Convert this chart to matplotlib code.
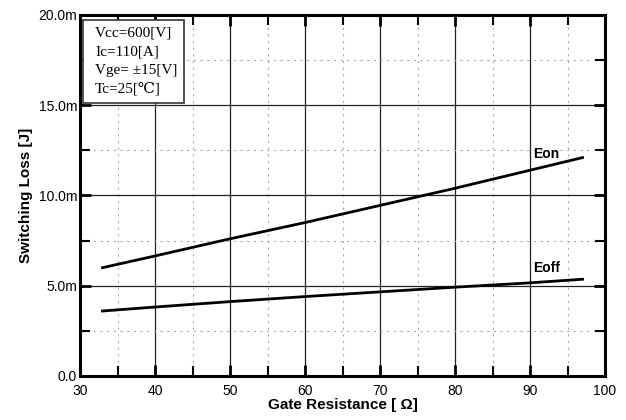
import matplotlib
matplotlib.use("Agg")
import matplotlib.pyplot as plt
from matplotlib.patches import Rectangle
from matplotlib.ticker import MultipleLocator, FuncFormatter

# valores (Rg em ohm, perdas em mJ)
rg = [33, 40, 50, 60, 70, 80, 90, 97]
eon = [6.0, 6.65, 7.6, 8.5, 9.45, 10.4, 11.4, 12.1]
eoff = [3.6, 3.82, 4.12, 4.4, 4.66, 4.92, 5.16, 5.36]

x_ticks = [30, 40, 50, 60, 70, 80, 90, 100]
y_ticks = [0, 5, 10, 15, 20]
cond_lines = ["Vcc=600[V]", "Ic=110[A]", "Vge= \u00b115[V]", "Tc=25[\u2103]"]

plt.rcParams['font.family'] = ['Liberation Sans', 'DejaVu Sans']

fig = plt.figure(figsize=(6.26, 4.2), dpi=100)
ax = fig.add_axes([0.1278, 0.1048, 0.8387, 0.8595])

ax.plot(rg, eon, color='black', lw=2)
ax.plot(rg, eoff, color='black', lw=2)

ax.set_xlim(30, 100)
ax.set_ylim(0, 20)
ax.set_xticks(x_ticks)
ax.set_yticks(y_ticks)
ax.xaxis.set_minor_locator(MultipleLocator(5))
ax.yaxis.set_minor_locator(MultipleLocator(2.5))

def fmt_y(v, pos):
    return "0.0" if v == 0 else "%.1fm" % v
ax.yaxis.set_major_formatter(FuncFormatter(fmt_y))

ax.grid(which='major', color='#222222', lw=0.9)
ax.grid(which='minor', color='#aaaaaa', lw=0.8, ls=(0, (2, 4)))
ax.tick_params(which='major', direction='in', length=8, width=2, top=True, right=True, labelsize=10, pad=2)
ax.tick_params(axis='x', which='major', pad=6)
ax.tick_params(which='minor', direction='in', length=7, width=1.5, top=True, right=True)
for s in ax.spines.values():
    s.set_linewidth(2.2)

ax.set_xlabel("Gate Resistance [ \u03a9]", fontsize=11, fontweight='bold', labelpad=0)
ax.set_ylabel("Switching Loss [J]", fontsize=11, fontweight='bold', labelpad=4)

ax.text(90.4, 12.3, "Eon", fontsize=10, fontweight='bold', va='center')
ax.text(90.4, 5.97, "Eoff", fontsize=10, fontweight='bold', va='center')

# caixa com as condições de teste
ax.add_patch(Rectangle((0.006, 0.757), 0.192, 0.229, transform=ax.transAxes,
                       fc='white', ec='#333333', lw=1.2, zorder=3))
for i, line in enumerate(cond_lines):
    ax.text(0.029, 0.95 - i * 0.0515, line, transform=ax.transAxes, fontsize=11,
            family=['Liberation Serif', 'DejaVu Serif'], va='center', ha='left', zorder=4)

fig.savefig("out.png", dpi=100)
